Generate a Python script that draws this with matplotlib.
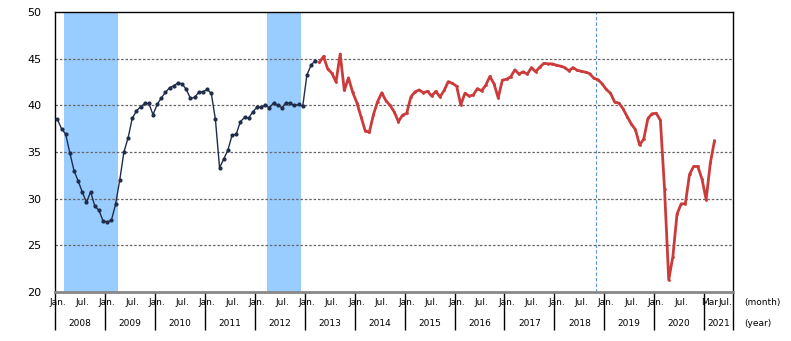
import matplotlib
matplotlib.use("Agg")
import matplotlib.pyplot as plt
import numpy as np

# month index 0 = Jan 2008
years = list(range(2008, 2022))

# old series, Jan 2008 - Mar 2013
old_vals = [38.5, 37.5, 36.9, 34.9, 33.0, 31.9, 30.7, 29.6, 30.75, 29.2, 28.75, 27.6,
            27.5, 27.7, 29.4, 32.0, 35.0, 36.5, 38.6, 39.4, 39.85, 40.2, 40.2, 39.0,
            40.1, 40.8, 41.4, 41.9, 42.1, 42.4, 42.3, 41.7, 40.75, 40.85, 41.4, 41.45,
            41.7, 41.3, 38.5, 33.3, 34.25, 35.2, 36.8, 36.9, 38.25, 38.7, 38.65, 39.3,
            39.8, 39.8, 40.0, 39.75, 40.25, 40.0, 39.75, 40.3, 40.2, 40.0, 40.1, 39.9,
            43.25, 44.3, 44.8]

# new series, Apr 2013 - Mar 2021
new_vals = [44.6, 45.25, 43.9, 43.45, 42.5, 45.5, 41.6, 42.95, 41.4,
            40.3, 38.8, 37.3, 37.1, 39.0, 40.4, 41.35, 40.5, 40.0, 39.3, 38.25, 38.95,
            39.15, 40.9, 41.45, 41.65, 41.35, 41.5, 41.0, 41.5, 40.9, 41.6, 42.55, 42.35,
            42.05, 40.05, 41.3, 41.0, 41.1, 41.8, 41.55, 42.15, 43.1, 42.3, 40.8, 42.7,
            42.8, 43.05, 43.8, 43.35, 43.6, 43.35, 44.05, 43.6, 44.1, 44.5, 44.45, 44.45,
            44.3, 44.2, 44.05, 43.7, 44.05, 43.75, 43.65, 43.55, 43.4, 42.9, 42.75, 42.3,
            41.7, 41.3, 40.35, 40.25, 39.65, 38.8, 38.0, 37.4, 35.75, 36.4, 38.6, 39.1,
            39.15, 38.4, 31.0, 21.3, 23.8, 28.35, 29.45, 29.45, 32.6, 33.45, 33.45, 32.1,
            29.9, 33.8, 36.2]

# recession periods (month index ranges) and the peak marker
recessions = [(1.5, 14.5), (50.5, 58.5)]
peak_line = 129.5

x_old = np.arange(len(old_vals))
x_new = np.arange(len(new_vals)) + len(old_vals)

fig = plt.figure(figsize=(7.91, 3.41), dpi=100)
ax = fig.add_axes([0.0699, 0.1437, 0.857, 0.8211])

for a, b in recessions:
    ax.axvspan(a, b, color='#99ccff', lw=0, zorder=0)

for y in [25, 30, 35, 40, 45]:
    ax.axhline(y, color='#666666', lw=0.9, ls=(0, (2, 1.5)), zorder=1)

ax.axvline(peak_line, color='#5b8fd6', lw=0.8, ls=(0, (3, 2)), zorder=1)

ax.plot(x_old, old_vals, color='#1f2d4a', lw=1.0, marker='o', ms=2, zorder=3)
ax.plot(x_new, new_vals, color='#cc3b3b', lw=2.0, marker='.', ms=2, zorder=3)

ax.set_xlim(-0.5, 162.5)
ax.set_ylim(20, 50)
ax.set_yticks(range(20, 51, 5))
ax.tick_params(axis='y', length=0, pad=10, labelsize=8)
ax.set_xticks([])

for s in ['left', 'right', 'top']:
    ax.spines[s].set_color('black')
    ax.spines[s].set_linewidth(1.0)
ax.spines['bottom'].set_color('#888888')
ax.spines['bottom'].set_linewidth(2.0)

# x axis labels: months and years
tr = ax.get_xaxis_transform()
bounds = [12 * i - 0.5 for i in range(len(years))] + [162.5]
ax.vlines(bounds, -0.136, 0, transform=tr, color='black', lw=1.0, clip_on=False)

fs = 6.5
for i, yr in enumerate(years):
    start = 12 * i
    mid = (bounds[i] + bounds[i + 1]) / 2
    ax.text(mid, -0.111, str(yr), transform=tr, ha='center', va='center', fontsize=fs)
    if yr < 2021:
        ax.text(start, -0.039, 'Jan.', transform=tr, ha='center', va='center', fontsize=fs)
        ax.text(start + 6, -0.039, 'Jul.', transform=tr, ha='center', va='center', fontsize=fs)
    else:
        ax.text(158.9, -0.039, 'Mar', transform=tr, ha='right', va='center', fontsize=fs)
        ax.text(159.0, -0.039, 'Jul.', transform=tr, ha='left', va='center', fontsize=fs)

ax.text(1.017, -0.039, '(month)', transform=ax.transAxes, ha='left', va='center', fontsize=fs)
ax.text(1.017, -0.111, '(year)', transform=ax.transAxes, ha='left', va='center', fontsize=fs)

fig.savefig('out.png', dpi=100)
